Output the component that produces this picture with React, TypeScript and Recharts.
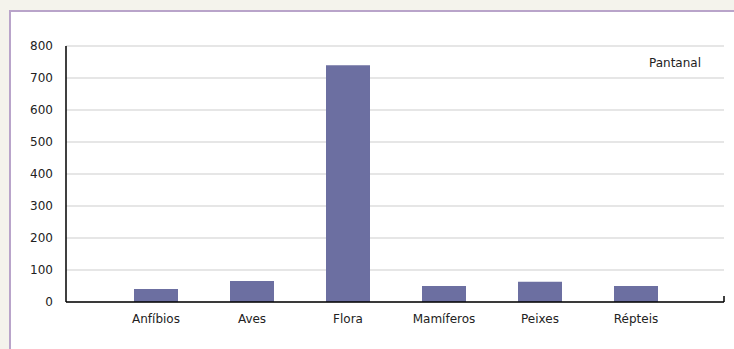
import React from "react";
import * as R from "recharts";
import { BarChart, Bar, XAxis, YAxis, CartesianGrid } from "recharts";

const categories = ["Anfíbios", "Aves", "Flora", "Mamíferos", "Peixes", "Répteis"];
const pantanal = [41, 66, 740, 50, 63, 50];
const yTicks = [0, 100, 200, 300, 400, 500, 600, 700, 800];
const seriesName = "Pantanal";

const data = categories.map((c, i) => ({ name: c, value: pantanal[i] }));

const FONT = "'DejaVu Sans', sans-serif";

function EndTick() {
  const hook = (R as any).usePlotArea;
  const area = hook ? hook() : null;
  if (!area) return null;
  const x = area.x + area.width;
  const y = area.y + area.height;
  return <line x1={x} x2={x} y1={y - 6} y2={y} stroke="#000" strokeWidth={1.5} />;
}

export default function App() {
  return (
    <div style={{ position: "fixed", left: 0, top: 0, width: 734, height: 349, background: "#f4f3ec", overflow: "hidden" }}>
      <div
        style={{
          position: "absolute",
          left: 9,
          top: 10,
          width: 725,
          height: 339,
          background: "#fff",
          borderLeft: "2px solid #b9a4ca",
          borderTop: "2px solid #b9a4ca",
          boxSizing: "border-box",
        }}
      />
      <div style={{ position: "absolute", left: 0, top: 0 }}>
        <BarChart width={734} height={349} data={data} margin={{ top: 46, right: 10, bottom: 17, left: 0 }}>
          <CartesianGrid vertical={false} stroke="#e6e6e6" strokeWidth={2} />
          <XAxis
            dataKey="name"
            padding={{ left: 42, right: 40 }}
            axisLine={{ stroke: "#000", strokeWidth: 1.5 }}
            tickLine={false}
            tickSize={0}
            tickMargin={12}
            height={30}
            tick={{ fill: "#222", fontSize: 12, fontFamily: FONT }}
            interval={0}
          />
          <YAxis
            domain={[0, 800]}
            ticks={yTicks}
            width={66}
            axisLine={{ stroke: "#000", strokeWidth: 1.5 }}
            tickLine={false}
            tickSize={0}
            tickMargin={13}
            tick={{ fill: "#222", fontSize: 12, fontFamily: FONT }}
            interval={0}
          />
          <Bar dataKey="value" name={seriesName} fill="#6c6fa1" barSize={44} isAnimationActive={false} />
          <EndTick />
        </BarChart>
      </div>
      <div
        style={{
          position: "absolute",
          left: 649,
          top: 55,
          fontFamily: FONT,
          fontSize: 12,
          lineHeight: "16px",
          color: "#222",
          whiteSpace: "nowrap",
        }}
      >
        {seriesName}
      </div>
    </div>
  );
}
